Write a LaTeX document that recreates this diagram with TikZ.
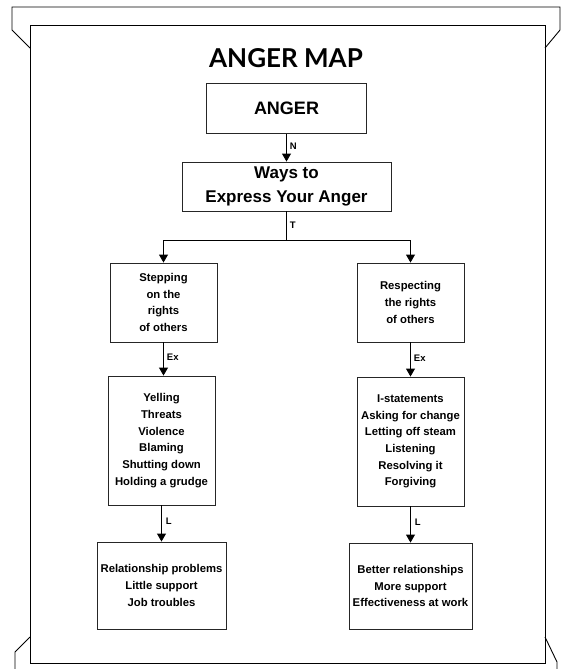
\documentclass[tikz,border=0pt]{standalone}
\usepackage{fontspec}
\setmainfont{Liberation Sans}
\newfontfamily\titlefont{Lato}
\usetikzlibrary{arrows.meta}
\begin{document}
\begin{tikzpicture}[x=1pt,y=-1pt,
  frame/.style={line width=0.9pt,black},
  box/.style={draw=black!85,line width=0.9pt,inner sep=0pt,align=center,font=\bfseries\fontsize{11.3}{16.7}\selectfont},
  bigbox/.style={draw=black!85,line width=0.9pt,inner sep=0pt,align=center,font=\bfseries\fontsize{17}{24}\selectfont},
  conn/.style={line width=0.9pt,-{Triangle[length=8pt,width=9pt]}},
  lbl/.style={font=\bfseries\fontsize{9.5}{11}\selectfont,inner sep=0pt,anchor=west}
]
\useasboundingbox (0,0) rectangle (561,669);
\fill[white] (0,0) rectangle (561,669);
% frame
\draw[frame] (30,25) rectangle (545,663);
\draw[frame] (30,48) -- (12,30) -- (12,7) -- (560,7) -- (560,30) -- (545,48);
\draw[frame] (30,637) -- (15,652) -- (15,669);
\draw[frame] (545,637) -- (557,662) -- (557,669);
% title
\node[anchor=base,inner sep=0pt,font=\titlefont\bfseries\fontsize{26}{28}\selectfont] (title) at (286,67) {ANGER MAP};
% boxes
\node[bigbox,minimum width=160pt,minimum height=50pt,font=\bfseries\fontsize{18}{22}\selectfont] (anger) at (286.5,108.5) {ANGER};
\node[bigbox,minimum width=209pt,minimum height=49pt] (ways) at (286.5,186.5) {Ways to\\Express Your Anger};
\node[box,minimum width=107pt,minimum height=79pt] (step) at (163.5,302.5) {Stepping\\on the\\rights\\of others};
\node[box,minimum width=107pt,minimum height=79pt] (resp) at (410.5,302.5) {Respecting\\the rights\\of others};
\node[box,minimum width=107pt,minimum height=129pt] (yell) at (161.5,440.5) {Yelling\\Threats\\Violence\\Blaming\\Shutting down\\Holding a grudge};
\node[box,minimum width=107pt,minimum height=129pt] (istat) at (410.5,441.5) {I-statements\\Asking for change\\Letting off steam\\Listening\\Resolving it\\Forgiving};
\node[box,minimum width=129pt,minimum height=87pt] (rel) at (161.5,585.5) {Relationship problems\\Little support\\Job troubles};
\node[box,minimum width=123pt,minimum height=86pt] (better) at (410.5,586) {Better relationships\\More support\\Effectiveness at work};
% connectors
\draw[conn] (anger.south -| ways.north) -- (ways.north) node[lbl,pos=0.45,xshift=3pt] {N};
\coordinate (tj) at (286.5,240);
\coordinate (tl) at (163.5,240);
\coordinate (tr) at (410.5,240);
\draw[line width=0.9pt] (ways.south) -- (tj) node[lbl,pos=0.5,xshift=3pt] {T};
\draw[conn] (tj) -- (tl) -- (step.north);
\draw[conn] (tj) -- (tr) -- (resp.north);
\draw[conn] (step.south) -- (step.south |- yell.north) node[lbl,pos=0.45,xshift=3pt] {Ex};
\draw[conn] (resp.south) -- (istat.north) node[lbl,pos=0.45,xshift=3pt] {Ex};
\draw[conn] (yell.south) -- (yell.south |- rel.north) node[lbl,pos=0.45,xshift=4pt] {L};
\draw[conn] (istat.south) -- (istat.south |- better.north) node[lbl,pos=0.45,xshift=4pt] {L};
\end{tikzpicture}
\end{document}
